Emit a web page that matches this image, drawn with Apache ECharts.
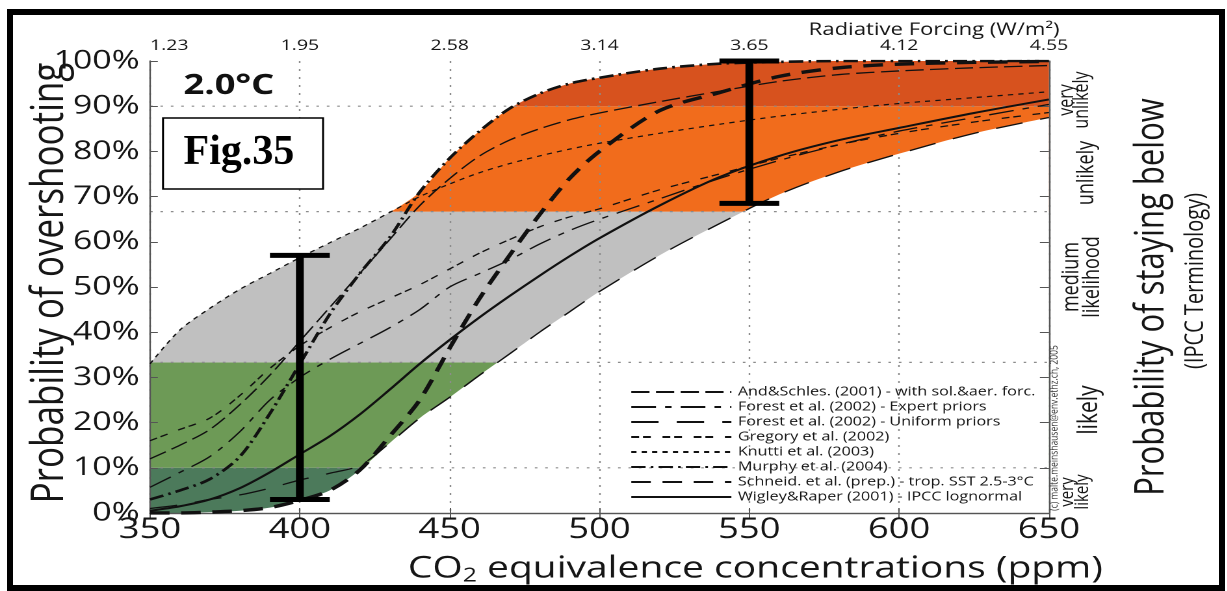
<!DOCTYPE html>
<html>
<head>
<meta charset="utf-8">
<script src="https://cdn.jsdelivr.net/npm/echarts@6/dist/echarts.min.js"></script>
<style>
  html, body { margin: 0; padding: 0; background: #fff; width: 1227px; height: 591px; overflow: hidden; }
  #wrap { position: absolute; left: 0; top: 0; width: 1227px; height: 591px; overflow: hidden; background: #fff; }
  /* the figure is laid out narrow and widened horizontally */
  #chart { position: absolute; left: 0; top: 0; width: 944px; height: 591px; transform: scaleX(1.3); transform-origin: 0 0; }
  #frame { position: absolute; left: 7px; top: 9px; width: 1218px; height: 582px; border: 6px solid #000; box-sizing: border-box; pointer-events: none; }
</style>
</head>
<body>
<div id="wrap"><div id="chart"></div><div id="frame"></div></div>
<script>
// CO2-equivalent concentration samples (ppm)
const ppm = [350, 360, 370, 380, 390, 400, 410, 420, 430, 440, 450, 460, 470, 480, 490, 500, 520, 540, 560, 580, 600, 625, 650];

// probability (%) of overshooting 2.0 °C for each climate-sensitivity PDF
const andSchles     = [12, 15, 18.5, 24, 30.5, 38, 45.5, 53, 60.5, 68, 74, 79, 82.5, 85, 87, 88.5, 91, 93.3, 95.5, 97, 97.8, 98.5, 99];
const forestExpert  = [5.7, 9, 12.5, 18, 25, 30, 34, 37.5, 41, 45, 50, 53, 56, 59.5, 62.5, 65, 69.5, 74, 78, 81.5, 84.5, 87.5, 90.4];
const forestUniform = [1, 1.8, 3, 4, 5.5, 7.3, 8.8, 10.5, 15.5, 21, 25.6, 30.5, 35.2, 40, 44.5, 49, 57, 64, 70.5, 75.5, 79.5, 84, 87.5];
const gregory       = [16, 18.5, 21, 26, 32, 37, 41, 44.5, 47.5, 50.5, 54, 57.5, 60.5, 63.3, 65.5, 67.3, 71.5, 75, 78.5, 81.5, 84, 86.5, 88.6];
const knutti        = [33, 40.5, 45.3, 49.5, 53, 56.5, 59.8, 63, 66.5, 70, 72.8, 75.3, 77.3, 79, 80.5, 81.8, 84, 86, 87.8, 89.3, 90.6, 91.9, 93.2];
const murphy        = [3, 5, 7.5, 12.5, 22, 33, 44, 53, 61, 71, 78.5, 84.5, 89.5, 92.8, 95, 96.3, 98.3, 99.4, 99.8, 100, 100, 100, 100];
const schneider     = [0, 0, 0.2, 0.5, 1.2, 2.8, 5, 9.5, 17, 25, 36.5, 47.5, 57, 66, 74, 80, 89, 93, 96.6, 98.5, 99.3, 99.7, 99.9];
const wigley        = [0.5, 1.5, 3, 5.5, 9, 13, 17, 21.8, 27.3, 33, 38.3, 43.3, 48, 52.5, 56.8, 60.8, 68, 74.3, 79, 82.5, 85.2, 88.5, 91.5];

// legend names
const seriesNames = [
  'And&Schles. (2001) - with sol.&aer. forc.',
  'Forest et al. (2002) - Expert priors',
  'Forest et al. (2002) - Uniform priors',
  'Gregory et al. (2002)',
  'Knutti et al. (2003)',
  'Murphy et al. (2004)',
  'Schneid. et al. (prep.) - trop. SST 2.5-3°C',
  'Wigley&Raper (2001) - IPCC lognormal'
];

// upper axis: radiative forcing at 350, 400, ... 650 ppm
const forcingLabels = ['1.23', '1.95', '2.58', '3.14', '3.65', '4.12', '4.55'];

// IPCC likelihood bands (probability of overshooting, %)
const bandRanges = [[0, 10], [10, 33.33], [33.33, 66.67], [66.67, 90], [90, 100]];
const bandColors = ['#4c7a5b', '#6d9a56', '#c0c0c0', '#f16c1c', '#d7521e'];
const gridLevels = [10, 33.33, 66.67, 90];

// error bars: [ppm, low %, high %]
const errorBars = [[400, 3, 57], [550, 68.5, 100]];

const curves = [andSchles, forestExpert, forestUniform, gregory, knutti, murphy, schneider, wigley];
const curveStyles = [
  { width: 1.3, type: [14, 5] },
  { width: 1.3, type: [19, 7, 5, 7] },
  { width: 1.3, type: [21, 14] },
  { width: 1.3, type: [6, 3, 6, 9] },
  { width: 1.2, type: [4, 4] },
  { width: 2.6, type: [11, 4, 2, 4] },
  { width: 3.4, type: [15, 9] },
  { width: 2.0, type: 'solid' }
];

const SMOOTH = 0.3;
const pairs = arr => ppm.map((x, i) => [x, arr[i]]);
const upperEnv = ppm.map((x, i) => [x, Math.max(...curves.map(c => c[i]))]);
const lowerEnv = ppm.map((x, i) => [x, Math.min(...curves.map(c => c[i]))]);
const xMin = ppm[0], xMax = ppm[ppm.length - 1];

const FONT = "'Open Sans', 'DejaVu Sans', sans-serif";
const INK = '#161616';

const chart = echarts.init(document.getElementById('chart'), null, { renderer: 'canvas', devicePixelRatio: 2 });

const series = [];

// coloured likelihood bands
series.push({
  type: 'custom', z: 1, silent: true, clip: true,
  data: bandRanges,
  renderItem(params, api) {
    const a = api.coord([xMin, api.value(1)]);
    const b = api.coord([xMax, api.value(0)]);
    return { type: 'rect', shape: { x: a[0], y: a[1], width: b[0] - a[0], height: b[1] - a[1] },
             style: { fill: bandColors[params.dataIndex] } };
  }
});

// white outside the envelope of all PDFs
series.push({
  type: 'line', z: 1, silent: true, data: upperEnv, smooth: SMOOTH,
  symbol: 'none', lineStyle: { opacity: 0 }, areaStyle: { color: '#fff', opacity: 1, origin: 'end' }
});
series.push({
  type: 'line', z: 1, silent: true, data: lowerEnv, smooth: SMOOTH,
  symbol: 'none', lineStyle: { opacity: 0 }, areaStyle: { color: '#fff', opacity: 1, origin: 'start' }
});

// dotted likelihood boundaries
series.push({
  type: 'custom', z: 2, silent: true,
  data: gridLevels,
  renderItem(params, api) {
    const a = api.coord([xMin, api.value(0)]);
    const b = api.coord([xMax, api.value(0)]);
    return { type: 'line', shape: { x1: a[0], y1: a[1], x2: b[0], y2: b[1] },
             style: { stroke: '#8c8c8c', lineWidth: 1.2, lineDash: [2, 6] } };
  }
});

// the eight PDF curves
curves.forEach((c, k) => {
  series.push({
    name: seriesNames[k], type: 'line', z: 3, silent: true,
    data: pairs(c), smooth: SMOOTH, symbol: 'none',
    itemStyle: { color: '#111' },
    lineStyle: { color: '#111', width: curveStyles[k].width, type: curveStyles[k].type }
  });
});

// error bars
series.push({
  type: 'custom', z: 4, silent: true, clip: false,
  data: errorBars,
  renderItem(params, api) {
    const x = api.value(0);
    const p0 = api.coord([x, api.value(1)]);
    const p1 = api.coord([x, api.value(2)]);
    const hw = 23;
    return { type: 'group', children: [
      { type: 'line', shape: { x1: p0[0], y1: p0[1], x2: p1[0], y2: p1[1] }, style: { stroke: '#000', lineWidth: 6 } },
      { type: 'line', shape: { x1: p0[0] - hw, y1: p0[1], x2: p0[0] + hw, y2: p0[1] }, style: { stroke: '#000', lineWidth: 5 } },
      { type: 'line', shape: { x1: p1[0] - hw, y1: p1[1], x2: p1[0] + hw, y2: p1[1] }, style: { stroke: '#000', lineWidth: 5 } }
    ] };
  }
});

const axisLine = { show: true, lineStyle: { color: '#555', width: 1.2 } };

// rotated label helper (reads bottom to top)
const vText = (text, x, y, fontSize, extra) => ({
  type: 'text', x, y, rotation: Math.PI / 2, z: 10,
  style: Object.assign({ text, fontSize, fontFamily: FONT, fill: INK, textAlign: 'center', textVerticalAlign: 'middle' }, extra || {})
});

const option = {
  backgroundColor: '#fff',
  animation: false,
  textStyle: { fontFamily: FONT },
  grid: { left: 115.4, right: 137.1, top: 61, bottom: 78, containLabel: false },
  xAxis: [
    {
      type: 'value', min: 350, max: 650, interval: 50, position: 'bottom', z: 2,
      axisLine, axisTick: { inside: true, length: 5, lineStyle: { color: '#555' } },
      axisLabel: { fontSize: 28, color: INK, margin: 3, fontFamily: FONT },
      splitLine: { show: true, lineStyle: { color: '#8c8c8c', width: 1.2, type: [2, 6] } }
    },
    {
      type: 'value', min: 350, max: 650, interval: 50, position: 'top', z: 2,
      axisLine, axisTick: { inside: true, length: 5, lineStyle: { color: '#555' } },
      axisLabel: { fontSize: 15, color: INK, margin: 8, fontFamily: FONT, alignMinLabel: 'left',
                   formatter: v => forcingLabels[Math.round((v - 350) / 50)] },
      splitLine: { show: false }
    }
  ],
  yAxis: [
    {
      type: 'value', min: 0, max: 100, interval: 10, position: 'left', z: 2,
      axisLine, axisTick: { inside: true, length: 6, lineStyle: { color: '#555' } },
      axisLabel: { fontSize: 26, color: INK, margin: 8, fontFamily: FONT, formatter: '{value}%' },
      splitLine: { show: false }
    },
    {
      type: 'value', min: 0, max: 100, interval: 10, position: 'right', z: 2,
      axisLine, axisTick: { inside: true, length: 7, lineStyle: { color: '#555' } },
      axisLabel: { show: false }, splitLine: { show: false }
    }
  ],
  legend: {
    data: seriesNames, orient: 'vertical', left: 484.6, top: 386, padding: 0,
    itemWidth: 77, itemHeight: 12, itemGap: 3, selectedMode: false,
    itemStyle: { opacity: 0 },
    textStyle: { fontSize: 12.4, color: INK, fontFamily: FONT }
  },
  series,
  graphic: [
    { type: 'text', x: 815, y: 30, z: 10, style: { text: 'Radiative Forcing (W/m²)', fontSize: 17, fontFamily: FONT, fill: INK, textAlign: 'right', textVerticalAlign: 'middle' } },
    vText('Probability of overshooting', 38.5, 283, 35),
    { type: 'text', x: 581, y: 569, z: 10, style: { text: 'CO{sub|2} equivalence concentrations (ppm)', fontSize: 30, fontFamily: FONT, fill: INK, textAlign: 'center', textVerticalAlign: 'middle',
        rich: { sub: { fontSize: 19, fontFamily: FONT, fill: INK, padding: [14, 0, 0, 0] } } } },
    vText('Probability of staying below', 886, 297, 31),
    vText('(IPCC Terminology)', 920, 281, 20),
    // IPCC likelihood terms beside the right axis
    vText('very', 821, 100, 16),
    vText('unlikely', 832.5, 100, 16),
    vText('unlikely', 836, 173, 18),
    vText('medium', 824.6, 277, 18),
    vText('likelihood', 840.4, 277, 18),
    vText('likely', 838, 410, 21),
    vText('very', 821, 492, 15),
    vText('likely', 832.5, 492, 15),
    vText('(c) malte.meinshausen@env.ethz.ch, 2005', 811, 428, 8.5, { fill: '#333' }),
    { type: 'text', x: 176, y: 86, z: 10, style: { text: '2.0°C', fontSize: 28, fontWeight: 'bold', fontFamily: FONT, fill: '#111', textAlign: 'center', textVerticalAlign: 'middle' } },
    { type: 'rect', z: 10, shape: { x: 125.4, y: 118, width: 123.1, height: 71 }, style: { fill: '#fff', stroke: '#000', lineWidth: 1.5 } },
    { type: 'text', x: 183.8, y: 153, z: 11, scaleX: 1 / 1.3, style: { text: 'Fig.35', fontSize: 42, fontWeight: 'bold', fontFamily: "'Liberation Serif', 'DejaVu Serif', serif", fill: '#000', textAlign: 'center', textVerticalAlign: 'middle' } }
  ]
};

chart.setOption(option);
</script>
</body>
</html>
